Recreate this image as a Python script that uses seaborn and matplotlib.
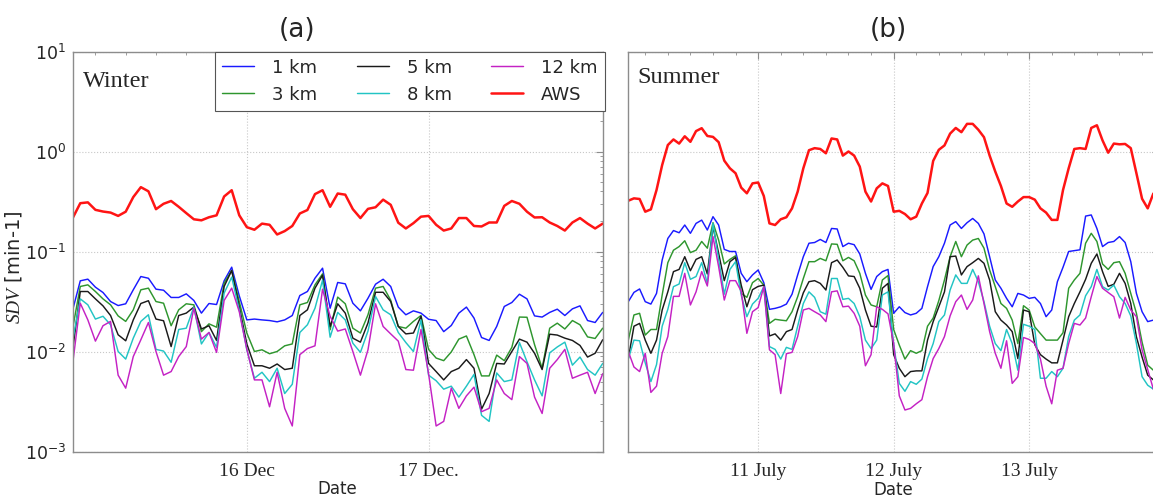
import matplotlib
matplotlib.use("Agg")
import matplotlib.pyplot as plt
import seaborn as sns
import numpy as np
from matplotlib.ticker import MultipleLocator, LogLocator, NullFormatter
from matplotlib.lines import Line2D

# ---------------- data ----------------
series_names = ["1 km", "3 km", "5 km", "8 km", "12 km", "AWS"]
series_colors = ["#1a1aff", "#2e962e", "#1a1a1a", "#22c4c4", "#c422c4", "#ff1414"]

# Winter: hourly, hours counted from 15 Dec 00:00
winter_hours = list(range(1, 72))
winter_ticks = [24, 48]
winter_ticklabels = ["16 Dec", "17 Dec."]

w_1km = [0.0261, 0.0509, 0.0529, 0.044, 0.0389, 0.0316, 0.0288, 0.030, 0.0414, 0.0562, 0.054, 0.042,
         0.041, 0.0347, 0.0347, 0.0377, 0.0324, 0.0242, 0.0302, 0.0295, 0.0509, 0.0697, 0.036, 0.0207,
         0.0211, 0.0207, 0.0204, 0.0198, 0.0207, 0.0229, 0.0363, 0.0398, 0.0541, 0.0681, 0.0271, 0.049,
         0.0475, 0.0304, 0.0255, 0.0341, 0.0471, 0.0528, 0.0447, 0.0278, 0.0233, 0.0255, 0.0242,
         0.021, 0.0204, 0.0158, 0.0182, 0.0242, 0.0278, 0.0216, 0.0138, 0.0129, 0.0178, 0.0282, 0.0309,
         0.0374, 0.0336, 0.0227, 0.0221, 0.0246, 0.0265, 0.0229, 0.0267, 0.0286, 0.0204, 0.0195, 0.0246]
w_3km = [0.0171, 0.0447, 0.0464, 0.0398, 0.0336, 0.0293, 0.0227, 0.020, 0.0261, 0.0414, 0.043, 0.0316,
         0.0304, 0.0181, 0.0261, 0.030, 0.0293, 0.0158, 0.0189, 0.0175, 0.0482, 0.0646, 0.0316, 0.0153,
         0.010, 0.0104, 0.0095, 0.010, 0.0114, 0.0119, 0.0293, 0.0309, 0.0464, 0.0598, 0.0165, 0.035,
         0.030, 0.0171, 0.0153, 0.0233, 0.043, 0.0447, 0.0326, 0.0178, 0.0171, 0.020, 0.0229,
         0.0105, 0.0086, 0.0081, 0.0099, 0.0133, 0.0143, 0.0093, 0.0057, 0.0057, 0.0092, 0.0081, 0.011,
         0.0221, 0.022, 0.0117, 0.0068, 0.0171, 0.0192, 0.0168, 0.0204, 0.0185, 0.014, 0.0135, 0.0171]
w_5km = [0.0104, 0.0398, 0.0398, 0.0336, 0.0286, 0.0229, 0.0147, 0.0128, 0.0207, 0.0302, 0.0322, 0.0211,
         0.0203, 0.0112, 0.0229, 0.0242, 0.0278, 0.0168, 0.0181, 0.0129, 0.0447, 0.0646, 0.028, 0.0119,
         0.0072, 0.0072, 0.0068, 0.0075, 0.0066, 0.0068, 0.0229, 0.0261, 0.043, 0.058, 0.0178, 0.030,
         0.0242, 0.0136, 0.0124, 0.0193, 0.0391, 0.0391, 0.0316, 0.0178, 0.015, 0.0153, 0.0225,
         0.0076, 0.0063, 0.0052, 0.0063, 0.0068, 0.0083, 0.0068, 0.00265, 0.0038, 0.0076, 0.0075, 0.010,
         0.0133, 0.0124, 0.0096, 0.0066, 0.0149, 0.0146, 0.0136, 0.0129, 0.0115, 0.0088, 0.0096, 0.0131]
w_8km = [0.013, 0.0336, 0.0293, 0.0211, 0.0225, 0.0185, 0.010, 0.0084, 0.0136, 0.020, 0.0233, 0.0105,
         0.0101, 0.0078, 0.0166, 0.0171, 0.0278, 0.0119, 0.0155, 0.011, 0.0383, 0.0554, 0.026, 0.0104,
         0.0054, 0.0062, 0.005, 0.0068, 0.0038, 0.0047, 0.0155, 0.0185, 0.0271, 0.0517, 0.0139, 0.0246,
         0.0207, 0.0121, 0.0098, 0.016, 0.0355, 0.0261, 0.0233, 0.0155, 0.0123, 0.010, 0.0207,
         0.0058, 0.0051, 0.0042, 0.0045, 0.0035, 0.0045, 0.0059, 0.0023, 0.0020, 0.0061, 0.005, 0.0052,
         0.0123, 0.0079, 0.0052, 0.0036, 0.0097, 0.0111, 0.0124, 0.0073, 0.0088, 0.0066, 0.0058, 0.0076]
w_12km = [0.0076, 0.0304, 0.0207, 0.0127, 0.0181, 0.020, 0.0058, 0.0043, 0.0089, 0.0131, 0.0195, 0.010,
          0.0058, 0.0063, 0.0089, 0.0112, 0.0271, 0.0133, 0.0155, 0.0098, 0.0324, 0.043, 0.025, 0.0105,
          0.0052, 0.0052, 0.0028, 0.0062, 0.0027, 0.0018, 0.0093, 0.0107, 0.0114, 0.042, 0.0225, 0.016,
          0.0168, 0.010, 0.0058, 0.0104, 0.030, 0.0178, 0.015, 0.0127, 0.0066, 0.0065, 0.0166,
          0.006, 0.0018, 0.002, 0.0043, 0.0027, 0.0036, 0.0044, 0.0025, 0.0027, 0.0052, 0.0038, 0.0033,
          0.0089, 0.0076, 0.0035, 0.0024, 0.0068, 0.0083, 0.0105, 0.0054, 0.0058, 0.0062, 0.0038, 0.006]
w_aws = [0.216, 0.304, 0.31, 0.261, 0.251, 0.245, 0.227, 0.25, 0.35, 0.44, 0.40, 0.265,
         0.30, 0.32, 0.28, 0.242, 0.21, 0.205, 0.22, 0.23, 0.355, 0.41, 0.23, 0.175,
         0.165, 0.19, 0.185, 0.148, 0.16, 0.18, 0.24, 0.26, 0.375, 0.41, 0.28, 0.38,
         0.37, 0.265, 0.216, 0.267, 0.277, 0.33, 0.293, 0.194, 0.17, 0.192, 0.223,
         0.227, 0.185, 0.162, 0.17, 0.216, 0.216, 0.18, 0.178, 0.195, 0.195, 0.286, 0.32,
         0.30, 0.25, 0.219, 0.22, 0.195, 0.18, 0.162, 0.195, 0.216, 0.19, 0.17, 0.19]

# Summer: hourly, hours counted from 10 July 00:00
summer_hours = list(range(1, 95))
summer_ticks = [24, 48, 72]
summer_ticklabels = ["11 July", "12 July", "13 July"]

s_1km = [0.0315, 0.039, 0.0422, 0.0315, 0.0298, 0.0381, 0.0822, 0.135, 0.162, 0.154, 0.184, 0.152,
         0.191, 0.206, 0.164, 0.223, 0.184, 0.105, 0.1, 0.1, 0.0605, 0.0499, 0.0583, 0.0653, 0.0488,
         0.0264, 0.027, 0.028, 0.0298, 0.0374, 0.0583, 0.0887, 0.121, 0.123, 0.132, 0.123, 0.17, 0.168,
         0.112, 0.121, 0.117, 0.0945, 0.0605, 0.0418, 0.0562, 0.0629, 0.0662,
         0.0241, 0.028, 0.0245, 0.0232, 0.0241, 0.027, 0.0445, 0.0707, 0.0887, 0.121, 0.184, 0.199,
         0.17, 0.194, 0.214, 0.191, 0.15, 0.0887, 0.0519, 0.0429, 0.034, 0.028, 0.0381, 0.0367, 0.034,
         0.0348, 0.0302, 0.0223, 0.026, 0.0499, 0.0696, 0.1, 0.102, 0.104, 0.226, 0.232, 0.17, 0.112,
         0.123, 0.126, 0.141, 0.123, 0.0792, 0.0381, 0.025, 0.0199, 0.0206]
s_3km = [0.013, 0.0232, 0.0241, 0.0146, 0.0166, 0.0166, 0.0367, 0.0773, 0.103, 0.112, 0.128, 0.0975,
         0.103, 0.126, 0.108, 0.194, 0.130, 0.075, 0.0834, 0.0906, 0.0381, 0.0348, 0.0488, 0.0537,
         0.0461, 0.0191, 0.021, 0.0206, 0.0203, 0.025, 0.0353, 0.0537, 0.0791, 0.0791, 0.0853, 0.0808,
         0.119, 0.118, 0.0808, 0.0873, 0.0808, 0.0605, 0.0367, 0.0292, 0.028, 0.0519, 0.0575,
         0.0166, 0.0116, 0.0084, 0.0102, 0.0096, 0.0102, 0.0179, 0.0216, 0.0323, 0.0519, 0.0887, 0.126,
         0.0887, 0.116, 0.130, 0.135, 0.108, 0.0653, 0.0445, 0.0302, 0.027, 0.0206, 0.012, 0.0287,
         0.026, 0.0176, 0.0151, 0.013, 0.013, 0.013, 0.0154, 0.0429, 0.0519, 0.0605, 0.121, 0.152,
         0.126, 0.075, 0.0662, 0.0773, 0.0791, 0.0605, 0.0381, 0.0241, 0.0124, 0.0073, 0.0065]
s_5km = [0.0085, 0.0179, 0.0191, 0.013, 0.0096, 0.013, 0.026, 0.0395, 0.0629, 0.0662, 0.0887, 0.0643,
         0.0834, 0.0887, 0.0596, 0.177, 0.096, 0.0511, 0.0791, 0.0873, 0.0461, 0.028, 0.0415, 0.0448,
         0.0461, 0.0143, 0.015, 0.013, 0.0158, 0.0166, 0.026, 0.0386, 0.0499, 0.0511, 0.048, 0.0412,
         0.0773, 0.0822, 0.0694, 0.057, 0.0562, 0.0429, 0.026, 0.0179, 0.0176, 0.0429, 0.048,
         0.0093, 0.0068, 0.0056, 0.0063, 0.0064, 0.0064, 0.013, 0.0199, 0.028, 0.0395, 0.0887, 0.09,
         0.0583, 0.0706, 0.0773, 0.0853, 0.0762, 0.0519, 0.025, 0.0206, 0.0184, 0.0158, 0.0085, 0.026,
         0.025, 0.0117, 0.0093, 0.0084, 0.0077, 0.0077, 0.013, 0.0223, 0.0302, 0.0395, 0.0527, 0.0762,
         0.0945, 0.0629, 0.0448, 0.047, 0.0605, 0.048, 0.0302, 0.014, 0.0088, 0.0058, 0.0052]
s_8km = [0.0084, 0.013, 0.0128, 0.0077, 0.005, 0.0074, 0.0179, 0.0264, 0.0445, 0.0473, 0.0773, 0.0527,
         0.0562, 0.0773, 0.048, 0.191, 0.0834, 0.0374, 0.0662, 0.0791, 0.0367, 0.0223, 0.0298, 0.034,
         0.0445, 0.0112, 0.0105, 0.0084, 0.011, 0.0105, 0.0179, 0.0302, 0.0395, 0.0348, 0.025, 0.0236,
         0.0537, 0.0537, 0.0332, 0.034, 0.0302, 0.0223, 0.013, 0.0107, 0.013, 0.0367, 0.0395,
         0.012, 0.0048, 0.004, 0.005, 0.0047, 0.0053, 0.0085, 0.012, 0.0199, 0.0232, 0.0412, 0.0583,
         0.048, 0.048, 0.0662, 0.0499, 0.0315, 0.0179, 0.012, 0.0102, 0.0166, 0.012, 0.0065, 0.0187,
         0.0179, 0.0166, 0.0054, 0.0054, 0.0063, 0.0056, 0.0068, 0.0141, 0.0206, 0.0232, 0.0361, 0.0445,
         0.0662, 0.0445, 0.0412, 0.0461, 0.0353, 0.0302, 0.0227, 0.012, 0.0056, 0.0046, 0.0042]
s_12km = [0.01, 0.007, 0.0063, 0.0096, 0.0039, 0.0045, 0.0096, 0.0141, 0.0356, 0.0356, 0.0605, 0.0292,
          0.0395, 0.0629, 0.0452, 0.141, 0.0706, 0.0327, 0.0511, 0.0511, 0.040, 0.0152, 0.025, 0.0275,
          0.0445, 0.0104, 0.0093, 0.0038, 0.0095, 0.0098, 0.0141, 0.026, 0.027, 0.025, 0.0232, 0.0199,
          0.0395, 0.0404, 0.028, 0.0284, 0.0241, 0.0179, 0.0072, 0.0093, 0.028, 0.0264, 0.0238,
          0.012, 0.0036, 0.0026, 0.0027, 0.003, 0.0033, 0.0056, 0.0085, 0.0107, 0.0141, 0.0227, 0.0315,
          0.0367, 0.0264, 0.0327, 0.0571, 0.0302, 0.0158, 0.0096, 0.0068, 0.0128, 0.0048, 0.0056, 0.0138,
          0.0132, 0.012, 0.0084, 0.0045, 0.003, 0.0065, 0.0068, 0.012, 0.0191, 0.0184, 0.0216, 0.0353,
          0.0562, 0.0429, 0.0389, 0.0353, 0.0216, 0.0348, 0.026, 0.0223, 0.0104, 0.0066, 0.0042]
s_aws = [0.322, 0.340, 0.335, 0.250, 0.264, 0.412, 0.733, 1.16, 1.32, 1.2, 1.42, 1.25, 1.6, 1.71,
         1.43, 1.4, 1.24, 0.81, 0.679, 0.606, 0.435, 0.382, 0.48, 0.49, 0.359, 0.191, 0.184, 0.21,
         0.22, 0.27, 0.397, 0.679, 1.03, 1.08, 1.06, 0.96, 1.35, 1.32, 0.91, 1.0, 0.91, 0.706, 0.397,
         0.316, 0.428, 0.48, 0.452,
         0.250, 0.255, 0.237, 0.21, 0.223, 0.302, 0.385, 0.805, 1.04, 1.15, 1.51, 1.72, 1.56, 1.89,
         1.89, 1.65, 1.39, 0.91, 0.63, 0.452, 0.302, 0.28, 0.316, 0.35, 0.35, 0.33, 0.27, 0.245, 0.207,
         0.207, 0.412, 0.679, 1.06, 1.08, 1.06, 1.72, 1.83, 1.29, 0.973, 1.2, 1.18, 1.19, 1.08, 0.606,
         0.337, 0.27, 0.38]

winter = [w_1km, w_3km, w_5km, w_8km, w_12km, w_aws]
summer = [s_1km, s_3km, s_5km, s_8km, s_12km, s_aws]

# ---------------- style ----------------
sns.set_theme(style="white")
plt.rcParams["font.family"] = ["DejaVu Sans"]
plt.rcParams["mathtext.fontset"] = "custom"
plt.rcParams["mathtext.it"] = "Liberation Serif:italic"
plt.rcParams["mathtext.rm"] = "DejaVu Sans"
plt.rcParams["mathtext.bf"] = "DejaVu Sans:bold"

W, H = 1153, 497
fig = plt.figure(figsize=(W / 100, H / 100), dpi=100)
fig.patch.set_facecolor("white")
ax_a = fig.add_axes([72.7 / W, 45.5 / H, 530.0 / W, 400 / H])
ax_b = fig.add_axes([628.3 / W, 45.5 / H, 530.7 / W, 400 / H])

spine_col = "#8c8c8c"
AWS_LW = 1.8
MODEL_LW = 1.05

for ax, hours, data in [(ax_a, winter_hours, winter), (ax_b, summer_hours, summer)]:
    for name, col, vals in zip(series_names, series_colors, data):
        lw = AWS_LW if name == "AWS" else MODEL_LW
        sns.lineplot(x=hours[:len(vals)], y=vals, ax=ax, color=col, linewidth=lw,
                     legend=False, estimator=None, sort=False)
    ax.set_yscale("log")
    ax.set_ylim(1e-3, 10)
    ax.set_xlim(hours[0], hours[-1] + (1 if ax is ax_b else 0))
    ax.yaxis.set_major_locator(LogLocator(base=10, numticks=10))
    ax.yaxis.set_minor_locator(LogLocator(base=10, subs=np.arange(2, 10), numticks=20))
    ax.yaxis.set_minor_formatter(NullFormatter())
    ax.xaxis.set_minor_locator(MultipleLocator(4))
    ax.grid(True, which="major", linestyle=":", color="#c8c8c8", linewidth=0.8)
    for sp in ax.spines.values():
        sp.set_color(spine_col)
        sp.set_linewidth(1.0)
    ax.tick_params(which="both", direction="in", top=True, right=True, color=spine_col)
    ax.tick_params(which="major", length=5, width=0.8)
    ax.tick_params(which="minor", length=2.5, width=0.6)
    ax.tick_params(axis="x", which="major", pad=8)
    ax.set_ylabel("")
    ax.set_xlabel("")

ax_a.set_xticks(winter_ticks)
ax_a.set_xticklabels(winter_ticklabels, fontfamily="Liberation Serif", fontsize=14)
ax_b.set_xticks(summer_ticks)
ax_b.set_xticklabels(summer_ticklabels, fontfamily="Liberation Serif", fontsize=14)
ax_a.tick_params(axis="y", labelsize=12.5, pad=5)
ax_b.tick_params(axis="y", labelleft=False)

ax_a.set_xlabel("Date", fontsize=12)
ax_a.xaxis.set_label_coords(0.5, -0.071)
ax_b.set_xlabel("Date", fontsize=12)
ax_b.xaxis.set_label_coords(0.5, -0.074)
ax_a.set_ylabel(r"$\mathit{SDV}$ [min-1]", fontsize=14)
ax_a.yaxis.set_label_coords(-0.092, 0.46)

ax_a.text(0.0194, 0.9105, "Winter", transform=ax_a.transAxes, fontsize=17.5,
          fontfamily="Liberation Serif", va="baseline", ha="left")
ax_b.text(0.0177, 0.922, "Summer", transform=ax_b.transAxes, fontsize=17.5,
          fontfamily="Liberation Serif", va="baseline", ha="left")

fig.text(297 / W, 1 - 30 / H, "(a)", fontsize=19, ha="center", va="center")
fig.text(888 / W, 1 - 30 / H, "(b)", fontsize=19, ha="center", va="center")

handles = [Line2D([], [], color=c, lw=(AWS_LW if n == "AWS" else MODEL_LW))
           for n, c in zip(series_names, series_colors)]
leg = ax_a.legend(handles, series_names, ncol=3, loc="upper right", bbox_to_anchor=(1.004, 1.0),
                  borderaxespad=0, fontsize=13, handlelength=1.75, handletextpad=1.0,
                  columnspacing=2.2, labelspacing=0.5, borderpad=0.4, fancybox=False,
                  framealpha=1.0, edgecolor="#555555")
leg.get_frame().set_linewidth(0.8)

fig.savefig("out.png", dpi=100, facecolor="white")
